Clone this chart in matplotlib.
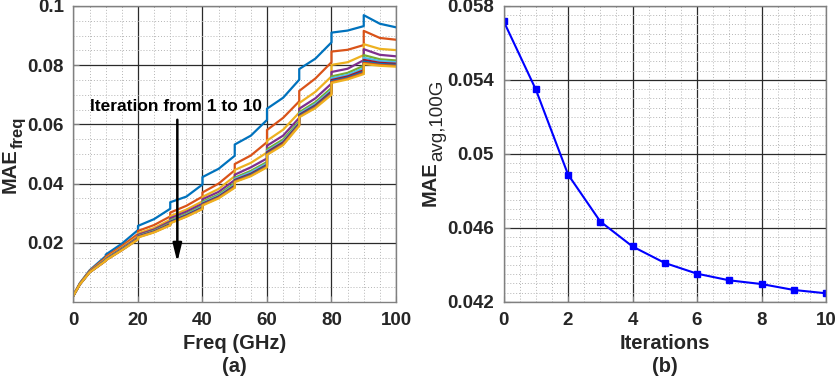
import matplotlib
matplotlib.use("Agg")
import matplotlib.pyplot as plt
from matplotlib.ticker import MultipleLocator, FuncFormatter

plt.rcParams['font.family'] = ['Liberation Sans', 'DejaVu Sans']
plt.rcParams['font.weight'] = 'bold'

# ---- (a) MAE per frequency, iterations 1..10 ----
# repeated frequencies mark the step at each 10 GHz block
freq = [0, 2, 5, 10, 10, 15, 20, 20, 25, 30, 30, 35, 40, 40, 45, 50, 50, 55,
        60, 60, 65, 70, 70, 75, 80, 80, 85, 90, 90, 95, 100]

it1 = [.0023, .0064, .0107, .0155, .0160, .0197, .0243, .0257, .0280, .0315, .0337,
       .0356, .0397, .0422, .0450, .0494, .0532, .0562, .0615, .0653, .0690, .0751,
       .0787, .0822, .0877, .0910, .0917, .0932, .0969, .0940, .0928]
it2 = [.0023, .0063, .0105, .0150, .0153, .0189, .0230, .0240, .0260, .0289, .0302,
       .0325, .0356, .0370, .0400, .0445, .0466, .0495, .0540, .0581, .0622, .0678,
       .0713, .0755, .0810, .0846, .0852, .0868, .0916, .0892, .0886]
it3 = [.0023, .0062, .0103, .0146, .0148, .0184, .0222, .0232, .0250, .0278, .0290,
       .0312, .0340, .0355, .0382, .0425, .0446, .0470, .0505, .0545, .0582, .0640,
       .0672, .0710, .0762, .0801, .0810, .0834, .0871, .0855, .0851]
it4 = [.0023, .0061, .0102, .0143, .0145, .0181, .0218, .0227, .0245, .0272, .0283,
       .0305, .0332, .0347, .0372, .0412, .0430, .0455, .0485, .0528, .0562, .0622,
       .0653, .0688, .0738, .0777, .0788, .0817, .0854, .0835, .0830]
it5 = [.0022, .0061, .0101, .0141, .0143, .0179, .0215, .0223, .0241, .0267, .0276,
       .0298, .0325, .0339, .0363, .0402, .0420, .0443, .0473, .0516, .0549, .0611,
       .0641, .0675, .0723, .0762, .0774, .0798, .0834, .0820, .0816]
it6 = [.0022, .0060, .0101, .0141, .0143, .0178, .0214, .0222, .0239, .0264, .0273,
       .0295, .0322, .0335, .0359, .0397, .0416, .0438, .0468, .0510, .0543, .0606,
       .0636, .0669, .0716, .0756, .0767, .0790, .0825, .0814, .0810]
it7 = [.0022, .0060, .0101, .0140, .0142, .0177, .0213, .0221, .0238, .0263, .0271,
       .0293, .0319, .0332, .0356, .0393, .0412, .0433, .0463, .0506, .0539, .0603,
       .0632, .0664, .0711, .0750, .0762, .0783, .0818, .0808, .0805]
it8 = [.0022, .0060, .0100, .0140, .0142, .0176, .0212, .0220, .0237, .0261, .0269,
       .0291, .0317, .0330, .0354, .0390, .0409, .0430, .0460, .0502, .0535, .0600,
       .0629, .0661, .0706, .0746, .0758, .0778, .0812, .0804, .0801]
it9 = [.0022, .0060, .0100, .0139, .0141, .0175, .0212, .0219, .0236, .0260, .0267,
       .0289, .0315, .0328, .0352, .0388, .0407, .0427, .0457, .0499, .0533, .0597,
       .0626, .0658, .0703, .0743, .0755, .0774, .0808, .0801, .0798]
it10 = [.0022, .0060, .0100, .0139, .0141, .0175, .0211, .0218, .0235, .0259, .0266,
        .0288, .0314, .0326, .0350, .0386, .0405, .0425, .0455, .0497, .0530, .0595,
        .0624, .0655, .0700, .0740, .0752, .0770, .0804, .0798, .0795]

curves = [it1, it2, it3, it4, it5, it6, it7, it8, it9, it10]
matlab_colors = ['#0072BD', '#D95319', '#EDB120', '#7E2F8E', '#77AC30',
                 '#4DBEEE', '#A2142F']

# ---- (b) average MAE vs iteration ----
iterations = [0, 1, 2, 3, 4, 5, 6, 7, 8, 9, 10]
mae_avg = [0.05719, 0.05349, 0.04889, 0.04635, 0.04500, 0.04411,
           0.04353, 0.04317, 0.04297, 0.04265, 0.04247]

txt_color = '#262626'
W, H = 837, 379

fig = plt.figure(figsize=(8.37, 3.79), dpi=100)
ax1 = fig.add_axes([0.0878, 0.2032, 0.3853, 0.781])
ax2 = fig.add_axes([0.6016, 0.2032, 0.3853, 0.781])


def style_axes(ax):
    ax.grid(True, which='major', color='#2a2a2a', linewidth=0.9)
    ax.grid(True, which='minor', color='#b5b5b5', linewidth=0.7,
            linestyle=(0, (1, 2)))
    ax.set_axisbelow(True)
    for s in ax.spines.values():
        s.set_color('#808080')
        s.set_linewidth(1.0)
    ax.tick_params(which='both', direction='in', colors='#808080',
                   labelcolor=txt_color, labelsize=13.5)
    ax.tick_params(which='major', length=4, pad=7)
    ax.tick_params(which='minor', length=0)


def sub_ylabel(main, sub, x_px, yc_px, sub_size, sub_weight):
    """MATLAB-like rotated label with a big subscript (pixel positions, top-left origin)."""
    t1 = fig.text(0, 0, main, rotation=90, fontsize=14.5, fontweight='bold',
                  color=txt_color, ha='right', va='bottom')
    t2 = fig.text(0, 0, sub, rotation=90, fontsize=sub_size, fontweight=sub_weight,
                  color=txt_color, ha='right', va='bottom')
    r = fig.canvas.get_renderer()
    h1 = t1.get_window_extent(r).height
    h2 = t2.get_window_extent(r).height
    y0 = (H - yc_px) - (h1 + h2) / 2
    t1.set_position((x_px / W, y0 / H))
    t2.set_position(((x_px + 6) / W, (y0 + h1) / H))


for i, vals in enumerate(curves):
    ax1.plot(freq, vals, color=matlab_colors[i % 7], linewidth=1.6)

ax1.set_xlim(0, 100)
ax1.set_ylim(0, 0.1)
ax1.set_xticks([0, 20, 40, 60, 80, 100])
ax1.set_yticks([0.02, 0.04, 0.06, 0.08, 0.1])
ax1.yaxis.set_major_formatter(FuncFormatter(lambda v, p: f'{v:g}'))
ax1.xaxis.set_minor_locator(MultipleLocator(5))
ax1.yaxis.set_minor_locator(MultipleLocator(0.005))
style_axes(ax1)
ax1.set_xlabel('Freq (GHz)', fontsize=14.5, fontweight='bold', color=txt_color,
               labelpad=4)

ax1.annotate('', xy=(32.2, 0.0125), xytext=(32.2, 0.0625),
             arrowprops=dict(arrowstyle='-|>,head_width=0.22,head_length=0.9',
                             lw=1.8, color='black', mutation_scale=12))
ax1.text(5.1, 0.0659, 'Iteration from 1 to 10', fontsize=12.5,
         fontweight='bold', color='black', ha='left', va='center')

ax2.plot(iterations, mae_avg, color='#0000FF', linewidth=1.5,
         marker='s', markersize=4)
ax2.set_xlim(0, 10)
ax2.set_ylim(0.042, 0.058)
ax2.set_xticks([0, 2, 4, 6, 8, 10])
ax2.set_yticks([0.042, 0.046, 0.05, 0.054, 0.058])
ax2.yaxis.set_major_formatter(FuncFormatter(lambda v, p: f'{v:g}'))
ax2.xaxis.set_minor_locator(MultipleLocator(0.5))
ax2.yaxis.set_minor_locator(MultipleLocator(0.0005))
style_axes(ax2)
ax2.set_xlabel('Iterations', fontsize=14.5, fontweight='bold', color=txt_color,
               labelpad=4)

sub_ylabel('MAE', 'freq', 20, 155, 12, 'bold')
sub_ylabel('MAE', 'avg,100G', 440, 143, 13.5, 'normal')

fig.text(0.2804, 0.034, '(a)', fontsize=14.5, fontweight='bold',
         color=txt_color, ha='center', va='center')
fig.text(0.794, 0.034, '(b)', fontsize=14.5, fontweight='bold',
         color=txt_color, ha='center', va='center')

fig.savefig('out.png', dpi=100)
